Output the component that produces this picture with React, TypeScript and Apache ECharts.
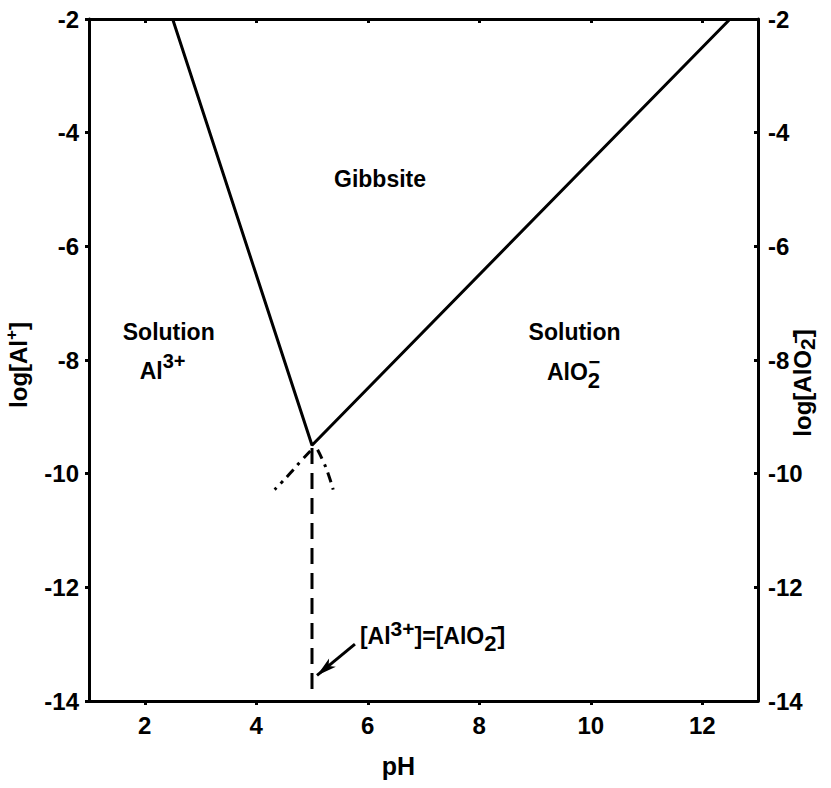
import React, { useEffect, useRef } from 'react';
import * as echarts from 'echarts';

// ---- data ----
const xTickValues = [2, 4, 6, 8, 10, 12];
const boundaryLine = [[2.5, -2], [5, -9.5], [12.5, -2]];
const equalityLine = [[5, -9.55], [5, -13.9]];
const al3Extension = [[4.97, -9.6], [4.78, -9.8], [4.62, -9.98], [4.45, -10.16], [4.33, -10.28]];
const alo2Extension = [[5.1, -9.58], [5.2, -9.78], [5.29, -10.0], [5.38, -10.28]];
const arrowFrom = [5.77, -13.0];
const arrowTo = [5.09, -13.55];
const regionLabels = [
  { text: '{m|Gibbsite}', at: [6.22, -4.82] },
  { text: '{m|Solution}', at: [2.43, -7.51] },
  { text: '{m|Al}{s|3+}', at: [2.32, -8.2] },
  { text: '{m|Solution}', at: [9.71, -7.51] },
  { text: '{m|AlO}{b|2}{o|−}', at: [9.7, -8.21] },
];
const annotation = { text: '{a|[Al}{as|3+}{a|]=[AlO}{ab|2}{ao|−}{a|]}', at: [5.86, -12.86] };

const FONT = '"Liberation Sans", Arial, sans-serif';

export default function App() {
  const ref = useRef<HTMLDivElement>(null);
  useEffect(() => {
    const chart = echarts.init(ref.current!, null, { renderer: 'svg' });
    const axisLine = { show: true, onZero: false, lineStyle: { color: '#000', width: 3 } };
    const tickStyle = { color: '#000', width: 3 };
    const tickLabel = { color: '#000', fontFamily: FONT, fontSize: 24, fontWeight: 'bold' };
    const nameStyle = { color: '#000', fontFamily: FONT, fontSize: 24, fontWeight: 'bold' };
    const t = { fontFamily: FONT, fontWeight: 'bold', color: '#000', textBorderWidth: 0 };
    const richBase = {
      m: { ...t, fontSize: 23, lineHeight: 40 },
      s: { ...t, fontSize: 20, lineHeight: 20, verticalAlign: 'top' },
      b: { ...t, fontSize: 22, lineHeight: 22, verticalAlign: 'bottom' },
      o: { ...t, fontSize: 20, lineHeight: 18, verticalAlign: 'top', width: 0.01, align: 'right', padding: [0, 1, 0, 0] },
      a: { ...t, fontSize: 23, lineHeight: 36 },
      as: { ...t, fontSize: 21, lineHeight: 18, verticalAlign: 'top' },
      ab: { ...t, fontSize: 22, lineHeight: 22, verticalAlign: 'bottom' },
      ao: { ...t, fontSize: 20, lineHeight: 16, verticalAlign: 'top', width: 0.01, align: 'right', padding: [0, 1, 0, 0] },
    };
    chart.setOption({
      animation: false,
      backgroundColor: '#fff',
      grid: { left: 89, right: 73, top: 19, bottom: 87, containLabel: false, outerBoundsMode: 'none' },
      xAxis: [
        {
          type: 'value', min: 1, max: 13, position: 'bottom',
          axisLine,
          axisTick: { show: true, inside: false, length: 4, lineStyle: tickStyle, customValues: xTickValues },
          axisLabel: { ...tickLabel, margin: 12, customValues: xTickValues },
          splitLine: { show: false },
          name: 'pH', nameLocation: 'middle', nameGap: 52, nameMoveOverlap: false,
          nameTextStyle: { ...nameStyle, fontSize: 25, padding: [0, 50, 0, 0] },
        },
        {
          type: 'value', min: 1, max: 13, position: 'top',
          axisLine,
          axisTick: { show: true, inside: true, length: 4, lineStyle: tickStyle, customValues: xTickValues },
          axisLabel: { show: false },
          splitLine: { show: false },
        },
      ],
      yAxis: [
        {
          type: 'value', min: -14, max: -2, interval: 2, position: 'left',
          axisLine,
          axisTick: { show: true, inside: false, length: 4, lineStyle: tickStyle },
          axisLabel: { ...tickLabel, margin: 10 },
          splitLine: { show: false },
          name: '{n|log[Al}{p|+}{n|]}', nameLocation: 'middle', nameGap: 56, nameRotate: 90, nameMoveOverlap: false,
          nameTextStyle: {
            ...nameStyle,
            padding: [0, 10, 0, 0],
            rich: {
              n: { ...nameStyle, lineHeight: 30 },
              p: { ...nameStyle, fontSize: 17, lineHeight: 16, verticalAlign: 'top' },
            },
          },
        },
        {
          type: 'value', min: -14, max: -2, interval: 2, position: 'right',
          axisLine,
          axisTick: { show: true, inside: true, length: 4, lineStyle: tickStyle },
          axisLabel: { ...tickLabel, margin: 10 },
          splitLine: { show: false },
          name: '{n|log[AlO}{b|2}{o|−}{n|]}', nameLocation: 'middle', nameGap: 28, nameRotate: 90, nameMoveOverlap: false,
          nameTextStyle: {
            ...nameStyle,
            padding: [0, 46, 0, 0],
            rich: {
              n: { ...nameStyle, lineHeight: 32 },
              b: { ...nameStyle, fontSize: 21, lineHeight: 21, verticalAlign: 'bottom' },
              o: { ...nameStyle, fontSize: 19, lineHeight: 15, verticalAlign: 'top', width: 0.01, align: 'right', padding: [0, 1, 0, 0] },
            },
          },
        },
      ],
      series: [
        {
          type: 'line', name: 'boundary', data: boundaryLine, symbol: 'none',
          lineStyle: { color: '#000', width: 3 }, z: 3,
        },
        {
          type: 'line', name: 'equality', data: equalityLine, symbol: 'none',
          lineStyle: { color: '#000', width: 3, type: [16, 9] },
          markLine: {
            silent: true, symbol: ['none', 'arrow'], symbolSize: [8, 20],
            lineStyle: { color: '#000', width: 3, type: 'solid' },
            itemStyle: { color: '#000' },
            label: { show: false },
            data: [[{ coord: arrowFrom }, { coord: arrowTo }]],
          },
        },
        {
          type: 'line', name: 'al3ext', data: al3Extension, symbol: 'none', smooth: true,
          lineStyle: { color: '#000', width: 3, type: [10, 6, 3, 6] },
        },
        {
          type: 'line', name: 'alo2ext', data: alo2Extension, symbol: 'none', smooth: true,
          lineStyle: { color: '#000', width: 3, type: [10, 6, 3, 6] },
        },
        {
          type: 'scatter', name: 'labels', symbolSize: 0, silent: true,
          itemStyle: { opacity: 1, color: '#000' },
          data: [...regionLabels, annotation].map((d, i) => ({
            value: d.at,
            label: {
              show: true,
              formatter: d.text,
              color: '#000',
              opacity: 1,
              textBorderWidth: 0,
              position: i === regionLabels.length ? 'right' : 'inside',
              distance: 0,
              align: i === regionLabels.length ? 'left' : 'center',
              verticalAlign: 'middle',
              rich: richBase,
            },
          })),
        },
      ],
    });
    return () => chart.dispose();
  }, []);
  return (
    <div
      ref={ref}
      style={{ position: 'absolute', left: 0, top: 0, width: 831, height: 788, background: '#fff' }}
    />
  );
}
